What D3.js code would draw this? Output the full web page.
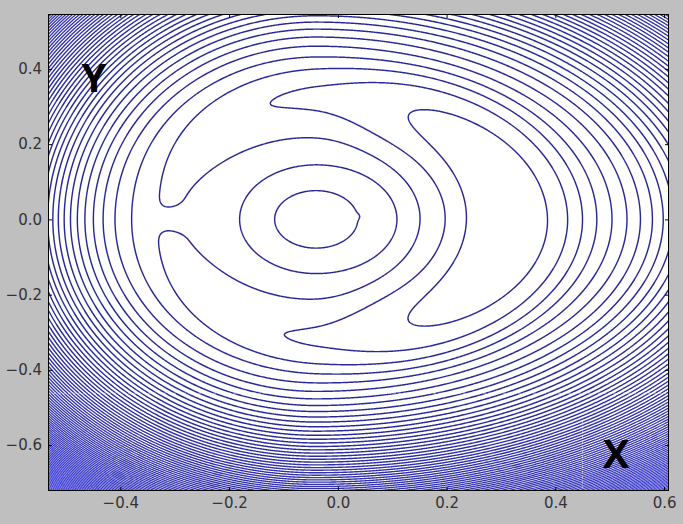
<!DOCTYPE html>
<html>

<head>
    <meta charset="utf-8" />
    <style>
        body {
            margin: 0;
            background-color: #bfbfbf;
        }

        svg {
            display: block;
        }

        .tick text {
            font-family: "DejaVu Sans", sans-serif;
            font-size: 15px;
            fill: #333;
        }

        .tick line {
            stroke: #000;
        }
    </style>

    <script src="https://d3js.org/d3.v7.min.js"></script>
</head>

<body>
    <script>
        var width = 683,
            height = 524;

        var plotLeft = 48, plotRight = 669,
            plotTop = 14, plotBottom = 491;

        // axes
        var xDomain = [-0.533, 0.609];
        var yDomain = [-0.722, 0.546];
        var xTicks = [-0.4, -0.2, 0.0, 0.2, 0.4, 0.6];
        var yTicks = [-0.6, -0.4, -0.2, 0.0, 0.2, 0.4];

        // contour levels of the field
        var levels = d3.range(0, 101, 1);

        // field: quartic bowl + ring ridge round the centre - one-sided crescent trough
        var centre = [-0.04, 0.0];
        var bowlRadii = [0.258, 0.375, 0.318, 0.30];    // left, right, top, bottom
        var bowlOffset = -0.4;
        var ridge = [2.6, 0.19, 0.144, 0.11];          // height, radius, inner width, outer width
        var troughDepth = [1.4, 0.42, 71, 9.6, -0.10]; // deep, shallow, switch angle, spread, top/bottom tilt
        var troughNotch = [0.3, 0.006];                // gap on the far left
        var troughRadius = [0.30, 0.05];               // a + b cos
        var troughWidth = [0.10, 0.04];                // a + b cos
        var nub = [0.037, 0.008, 0.009, 0.07];         // small kink on the inner oval: x, y, size, depth

        var x = d3.scaleLinear().domain(xDomain).range([plotLeft, plotRight]);
        var y = d3.scaleLinear().domain(yDomain).range([plotBottom, plotTop]);

        function field(px, py) {
            var dx = px - centre[0], dy = py - centre[1];
            var ax = dx < 0 ? bowlRadii[0] : bowlRadii[1];
            var ay = dy > 0 ? bowlRadii[2] : bowlRadii[3];
            var q = (dx / ax) * (dx / ax) + (dy / ay) * (dy / ay);
            var r = Math.sqrt(dx * dx + dy * dy);
            var c = r > 0 ? dx / r : 1,
                s = r > 0 ? dy / r : 0;
            var ang = Math.abs(Math.atan2(dy, dx)) * 180 / Math.PI;

            var u = r - ridge[1];
            var w = u < 0 ? ridge[2] : ridge[3];
            var bump = ridge[0] * Math.exp(-(u / w) * (u / w));

            var sw = 1 / (1 + Math.exp(-(troughDepth[2] - ang) / troughDepth[3]));
            var depth = troughDepth[1] + (troughDepth[0] - troughDepth[1]) * sw
                + troughDepth[4] * s
                - troughNotch[0] * Math.exp(-(1 + c) / troughNotch[1]);
            var r0 = troughRadius[0] + troughRadius[1] * c;
            var tw = troughWidth[0] + troughWidth[1] * c;
            var v = (r - r0) / tw;
            v = v * v;
            var trough = depth * Math.exp(-v * v);

            var nx0 = (px - nub[0]) / nub[2], ny0 = (py - nub[1]) / nub[2];
            var kink = nub[3] * Math.exp(-(nx0 * nx0 + ny0 * ny0));

            return bowlOffset + q * q + bump - trough - kink;
        }

        // sample grid, one sample per pixel
        var nx = plotRight - plotLeft,
            ny = plotBottom - plotTop;
        var gx = d3.scaleLinear().domain([0, nx]).range([plotLeft, plotRight]);
        var gy = d3.scaleLinear().domain([0, ny]).range([plotTop, plotBottom]);

        var values = new Float64Array(nx * ny);
        for (var j = 0; j < ny; j++) {
            var yv = y.invert(gy(j + 0.5));
            for (var i = 0; i < nx; i++) {
                values[j * nx + i] = field(x.invert(gx(i + 0.5)), yv);
            }
        }

        var contours = d3.contours().size([nx, ny]).thresholds(levels)(values);

        var projection = d3.geoTransform({
            point: function (px, py) {
                this.stream.point(gx(px), gy(py));
            }
        });
        var path = d3.geoPath(projection);

        // dense outer lines read brighter and thinner in the picture
        var lineColour = d3.scaleLinear().domain([12, 100]).range(["#2c2c96", "#4c4cf2"]).clamp(true);
        var lineWidth = d3.scaleLinear().domain([12, 100]).range([1.45, 0.95]).clamp(true);

        var svg = d3.select("body").append("svg")
            .attr("width", width)
            .attr("height", height);

        var defs = svg.append("defs");
        defs.append("clipPath")
            .attr("id", "plot_clip")
            .append("rect")
            .attr("x", plotLeft)
            .attr("y", plotTop)
            .attr("width", plotRight - plotLeft)
            .attr("height", plotBottom - plotTop);
        defs.append("filter")
            .attr("id", "soft")
            .attr("x", "-2%").attr("y", "-2%")
            .attr("width", "104%").attr("height", "104%")
            .append("feGaussianBlur")
            .attr("stdDeviation", 0.45);

        svg.append("rect")
            .attr("width", width)
            .attr("height", height)
            .attr("fill", "#bfbfbf");

        svg.append("rect")
            .attr("x", plotLeft)
            .attr("y", plotTop)
            .attr("width", plotRight - plotLeft)
            .attr("height", plotBottom - plotTop)
            .attr("fill", "#fff");

        svg.append("g")
            .attr("clip-path", "url(#plot_clip)")
            .append("g")
            .attr("filter", "url(#soft)")
            .selectAll("path")
            .data(contours)
            .enter().append("path")
            .attr("d", path)
            .attr("fill", "none")
            .attr("stroke", function (d) { return lineColour(d.value); })
            .attr("stroke-width", function (d) { return lineWidth(d.value); });

        // faint scan seams seen in the picture
        var seams = svg.append("g")
            .attr("clip-path", "url(#plot_clip)")
            .attr("stroke", "#fff")
            .attr("stroke-opacity", 0.5)
            .attr("stroke-dasharray", "3,2");
        seams.append("line")
            .attr("x1", plotLeft).attr("x2", plotRight)
            .attr("y1", y(-0.462)).attr("y2", y(-0.462));
        seams.append("line")
            .attr("x1", x(0.45)).attr("x2", x(0.45))
            .attr("y1", y(-0.535)).attr("y2", plotBottom);

        // axes, ticks inside on all four sides
        var fmt = d3.format(".1f");
        svg.append("g")
            .attr("transform", "translate(0," + plotBottom + ")")
            .call(d3.axisBottom(x).tickValues(xTicks).tickFormat(fmt).tickSize(-4).tickPadding(6))
            .call(function (g) { g.select(".domain").remove(); });
        svg.append("g")
            .attr("transform", "translate(0," + plotTop + ")")
            .call(d3.axisTop(x).tickValues(xTicks).tickFormat("").tickSize(-4))
            .call(function (g) { g.select(".domain").remove(); });
        svg.append("g")
            .attr("transform", "translate(" + plotLeft + ",0)")
            .call(d3.axisLeft(y).tickValues(yTicks).tickFormat(fmt).tickSize(-4).tickPadding(6))
            .call(function (g) { g.select(".domain").remove(); });
        svg.append("g")
            .attr("transform", "translate(" + plotRight + ",0)")
            .call(d3.axisRight(y).tickValues(yTicks).tickFormat("").tickSize(-4))
            .call(function (g) { g.select(".domain").remove(); });

        svg.append("rect")
            .attr("x", plotLeft + 0.5)
            .attr("y", plotTop + 0.5)
            .attr("width", plotRight - plotLeft - 1)
            .attr("height", plotBottom - plotTop - 1)
            .attr("fill", "none")
            .attr("stroke", "#000")
            .attr("stroke-width", 1);

        // big axis letters inside the plot
        svg.append("text")
            .attr("x", 94)
            .attr("y", 92)
            .attr("text-anchor", "middle")
            .style("font-family", "'Open Sans', sans-serif")
            .style("font-weight", "bold")
            .style("font-size", "40px")
            .attr("fill", "#000")
            .text("Y");
        svg.append("text")
            .attr("x", 616)
            .attr("y", 468)
            .attr("text-anchor", "middle")
            .style("font-family", "'Open Sans', sans-serif")
            .style("font-weight", "bold")
            .style("font-size", "40px")
            .attr("fill", "#000")
            .text("X");
    </script>
</body>

</html>
